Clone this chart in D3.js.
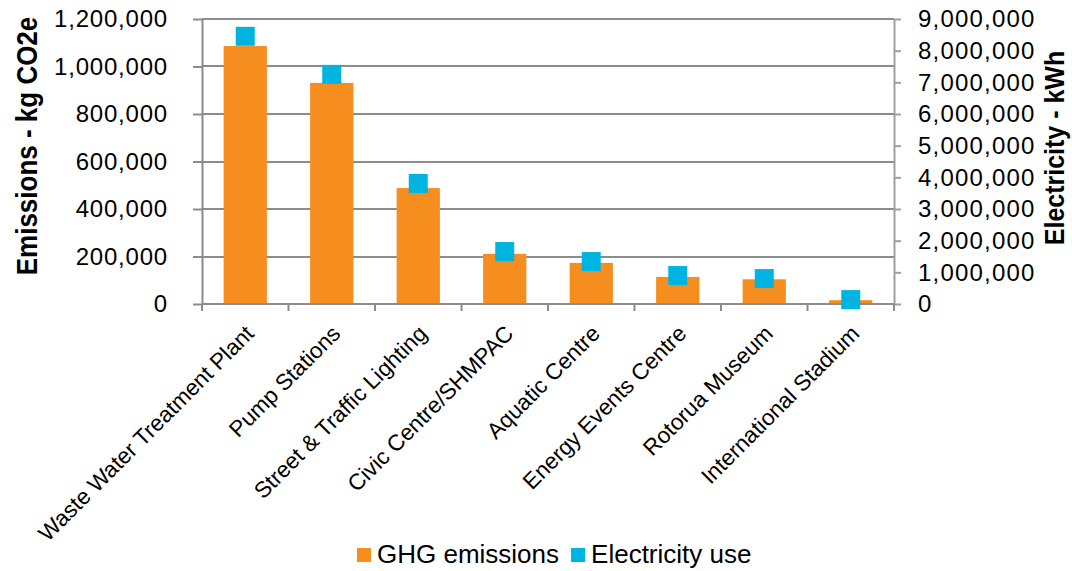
<!DOCTYPE html>
<html>
<head>
<meta charset="utf-8">
<script src="https://cdn.jsdelivr.net/npm/d3@7"></script>
<style>
  html, body { margin: 0; padding: 0; background: #fff; }
  svg { display: block; font-family: "Liberation Sans", Arial, sans-serif; }
</style>
</head>
<body>
<svg id="chart" width="1072" height="571"></svg>
<script>
// Facilities and their annual figures
const categories = [
  "Waste Water Treatment Plant",
  "Pump Stations",
  "Street & Traffic Lighting",
  "Civic Centre/SHMPAC",
  "Aquatic Centre",
  "Energy Events Centre",
  "Rotorua Museum",
  "International Stadium"
];
const ghgEmissions = [1086000, 931000, 488000, 211000, 173000, 114000, 104000, 16000];   // kg CO2e
const electricityUse = [8453000, 7252000, 3806000, 1656000, 1340000, 898000, 803000, 139000]; // kWh

const leftTicks = [0, 200000, 400000, 600000, 800000, 1000000, 1200000];
const rightTicks = [0, 1000000, 2000000, 3000000, 4000000, 5000000, 6000000, 7000000, 8000000, 9000000];

const seriesNames = ["GHG emissions", "Electricity use"];
const colors = { ghg: "#F58D1F", elec: "#00B4E1" };

const svg = d3.select("#chart");
const plot = { left: 202, right: 894, top: 19, bottom: 304 };

const x = d3.scaleBand()
  .domain(categories)
  .range([plot.left, plot.right])
  .paddingInner(0.5)
  .paddingOuter(0.25);

const yL = d3.scaleLinear().domain([0, 1200000]).range([plot.bottom, plot.top]);
const yR = d3.scaleLinear().domain([0, 9000000]).range([plot.bottom, plot.top]);

const fmt = d3.format(",");
const gridColor = "#8c8c8c";

// Horizontal gridlines on the emissions scale
svg.append("g")
  .selectAll("line")
  .data(leftTicks)
  .join("line")
  .attr("x1", plot.left)
  .attr("x2", plot.right)
  .attr("y1", d => Math.round(yL(d)))
  .attr("y2", d => Math.round(yL(d)))
  .attr("stroke", gridColor)
  .attr("stroke-width", 2);

// Bars: GHG emissions
svg.append("g")
  .selectAll("rect")
  .data(categories)
  .join("rect")
  .attr("x", d => x(d))
  .attr("width", x.bandwidth())
  .attr("y", (d, i) => yL(ghgEmissions[i]))
  .attr("height", (d, i) => yL(0) - yL(ghgEmissions[i]))
  .attr("fill", colors.ghg);

// Left axis
const axL = svg.append("g")
  .attr("transform", `translate(${plot.left},0)`)
  .call(d3.axisLeft(yL).tickValues(leftTicks).tickFormat(fmt).tickSize(9).tickSizeOuter(0).tickPadding(25));
axL.select(".domain").attr("stroke", gridColor).attr("stroke-width", 2);
axL.selectAll(".tick line").attr("stroke", gridColor).attr("stroke-width", 2);
axL.selectAll(".tick text")
  .attr("font-size", 24)
  .attr("letter-spacing", "0.8px")
  .attr("fill", "#000")
  .attr("font-family", "Liberation Sans, Arial, sans-serif");

// Right axis
const axR = svg.append("g")
  .attr("transform", `translate(${plot.right},0)`)
  .call(d3.axisRight(yR).tickValues(rightTicks).tickFormat(fmt).tickSize(7).tickSizeOuter(0).tickPadding(17));
axR.select(".domain").attr("stroke", "#a0a0a0").attr("stroke-width", 2);
axR.selectAll(".tick line").attr("stroke", "#a0a0a0").attr("stroke-width", 2);
axR.selectAll(".tick text")
  .attr("font-size", 24)
  .attr("letter-spacing", "1.2px")
  .attr("fill", "#000")
  .attr("font-family", "Liberation Sans, Arial, sans-serif");

// Category axis baseline and tick marks at band boundaries
const boundaries = d3.range(categories.length + 1).map(i => plot.left + i * x.step());
const catAxis = svg.append("g");
catAxis.append("line")
  .attr("x1", plot.left).attr("x2", plot.right)
  .attr("y1", Math.round(yL(0))).attr("y2", Math.round(yL(0)))
  .attr("stroke", gridColor).attr("stroke-width", 2);
catAxis.selectAll("line.tk")
  .data(boundaries)
  .join("line")
  .attr("class", "tk")
  .attr("x1", d => d).attr("x2", d => d)
  .attr("y1", Math.round(yL(0))).attr("y2", Math.round(yL(0)) + 7)
  .attr("stroke", gridColor).attr("stroke-width", 2);

// Rotated category labels
svg.append("g")
  .selectAll("text")
  .data(categories)
  .join("text")
  .attr("transform", d => `translate(${x(d) + x.bandwidth() / 2 + 10},${plot.bottom + 31}) rotate(-45)`)
  .attr("text-anchor", "end")
  .attr("font-size", 22.5)
  .attr("fill", "#000")
  .text(d => d);

// Square markers: electricity use
const ms = 19;
svg.append("g")
  .selectAll("rect")
  .data(categories)
  .join("rect")
  .attr("x", d => x(d) + x.bandwidth() / 2 - ms / 2)
  .attr("y", (d, i) => yR(electricityUse[i]) - ms / 2)
  .attr("width", ms)
  .attr("height", ms)
  .attr("fill", colors.elec);

// Axis titles
svg.append("text")
  .attr("transform", "translate(37,146) rotate(-90) scale(1,1.12)")
  .attr("text-anchor", "middle")
  .attr("font-size", 26)
  .attr("font-weight", "bold")
  .attr("fill", "#000")
  .text("Emissions - kg CO2e");

svg.append("text")
  .attr("transform", "translate(1064,148) rotate(-90) scale(1,1.08)")
  .attr("text-anchor", "middle")
  .attr("font-size", 25)
  .attr("font-weight", "bold")
  .attr("fill", "#000")
  .text("Electricity - kWh");

// Legend
const legend = svg.append("g");
let lx = 357;
const legendColors = [colors.ghg, colors.elec];
seriesNames.forEach((name, i) => {
  legend.append("rect")
    .attr("x", lx).attr("y", 548)
    .attr("width", 14).attr("height", 14)
    .attr("fill", legendColors[i]);
  const t = legend.append("text")
    .attr("x", lx + 20).attr("y", 563)
    .attr("font-size", 26)
    .attr("fill", "#000")
    .text(name);
  lx += 20 + t.node().getComputedTextLength() + 12;
});
</script>
</body>
</html>
